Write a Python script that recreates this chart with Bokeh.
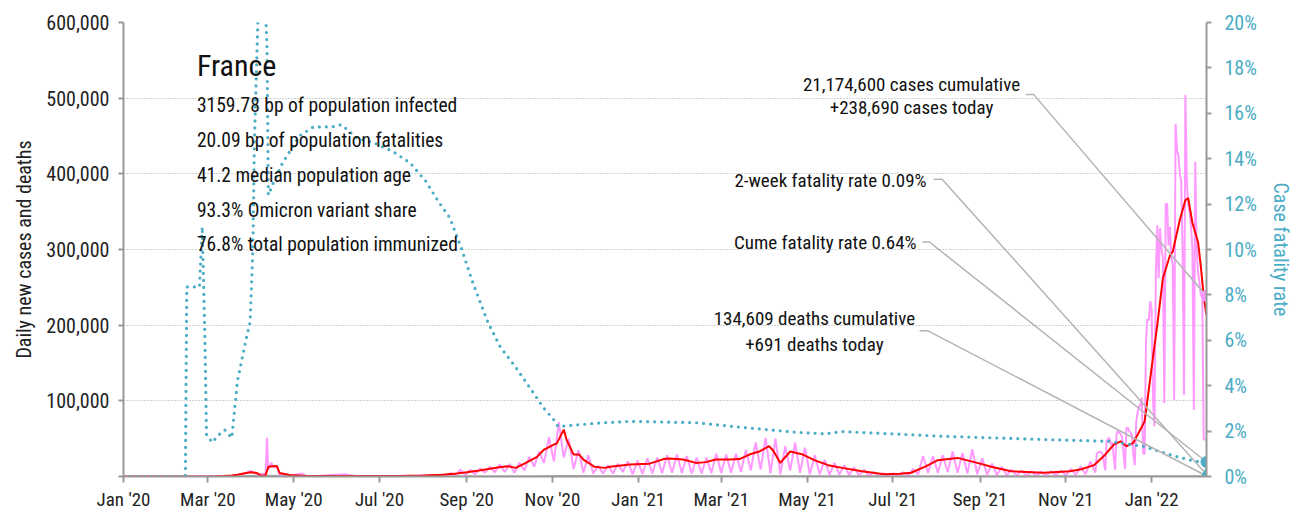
import pandas as pd
from bokeh.plotting import figure
from bokeh.models import (Range1d, LinearAxis, DatetimeTickFormatter, MonthsTicker,
                          NumeralTickFormatter, FixedTicker, PrintfTickFormatter, Label)
from bokeh.embed import file_html
from bokeh.resources import INLINE

# ---------------- data ----------------
# 7-day average of daily new cases (red)
red_dates = ["2020-01-01", "2020-02-25", "2020-03-05", "2020-03-12", "2020-03-18", "2020-03-22",
             "2020-03-28", "2020-04-01", "2020-04-05", "2020-04-08", "2020-04-11", "2020-04-13",
             "2020-04-16", "2020-04-19", "2020-04-21", "2020-04-28", "2020-05-10", "2020-06-01",
             "2020-07-01", "2020-07-15", "2020-08-01", "2020-08-15", "2020-08-25", "2020-09-01",
             "2020-09-10", "2020-09-23", "2020-09-30", "2020-10-06", "2020-10-12", "2020-10-21",
             "2020-10-26", "2020-11-02", "2020-11-04", "2020-11-09", "2020-11-11", "2020-11-16",
             "2020-11-20", "2020-11-23", "2020-12-01", "2020-12-08", "2020-12-12", "2020-12-26",
             "2021-01-09", "2021-01-19", "2021-01-23", "2021-02-02", "2021-02-11", "2021-02-18",
             "2021-02-25", "2021-03-07", "2021-03-14", "2021-03-21", "2021-03-28", "2021-04-04",
             "2021-04-07", "2021-04-12", "2021-04-19", "2021-04-28", "2021-05-07", "2021-05-16",
             "2021-05-26", "2021-06-09", "2021-06-25", "2021-07-06", "2021-07-14", "2021-07-24",
             "2021-08-02", "2021-08-16", "2021-08-30", "2021-09-09", "2021-09-23", "2021-10-16",
             "2021-11-04", "2021-11-12", "2021-11-21", "2021-11-28", "2021-12-05", "2021-12-10",
             "2021-12-14", "2021-12-19", "2021-12-24", "2021-12-27", "2021-12-29", "2022-01-02",
             "2022-01-05", "2022-01-09", "2022-01-14", "2022-01-16", "2022-01-21", "2022-01-25",
             "2022-01-27", "2022-01-30", "2022-02-03", "2022-02-05", "2022-02-07", "2022-02-09"]
red_vals = [0, 0, 100, 500, 1200, 2200,
            4500, 5700, 4500, 800, 1500, 13000,
            13600, 14000, 4500, 2000, 800, 600,
            600, 700, 1200, 2300, 4000, 5500,
            8000, 11800, 13600, 11400, 17100, 26000,
            35600, 42200, 43500, 62000, 48800, 29000,
            29000, 22400, 12800, 11400, 12800, 15800,
            17000, 23000, 23700, 22400, 18000, 19000,
            22400, 22400, 23000, 29000, 33000, 40000,
            34000, 18000, 33000, 29000, 21000, 15000,
            11400, 7000, 3000, 3500, 5000, 13000,
            21500, 24600, 18000, 12800, 7000, 4800,
            7000, 9500, 15000, 27000, 42000, 46500,
            40000, 44500, 62000, 73000, 101000, 158000,
            200000, 262000, 292000, 297000, 339000, 365000,
            368000, 335000, 310000, 277000, 238000, 213000]

# daily new cases (pink), spring 2020 (irregular reading points)
pink_early_dates = ["2020-01-01", "2020-02-25", "2020-03-05", "2020-03-12", "2020-03-17", "2020-03-21",
                    "2020-03-25", "2020-03-28", "2020-03-31", "2020-04-03", "2020-04-06", "2020-04-09",
                    "2020-04-11", "2020-04-12", "2020-04-13", "2020-04-15", "2020-04-17", "2020-04-19",
                    "2020-04-21", "2020-04-25", "2020-04-29", "2020-05-07", "2020-05-10", "2020-05-20",
                    "2020-06-06", "2020-06-15", "2020-07-01", "2020-07-15", "2020-07-24"]
pink_early_vals = [0, 0, 200, 600, 1100, 1800,
                   3000, 4200, 7500, 5000, 1800, 3600,
                   4000, 51000, 9000, 18000, 12000, 14000,
                   2000, 3000, 1500, 4000, 500, 1000,
                   3000, 500, 800, 600, 900]

# daily new cases (pink), weekly low (Monday) / high (mid-week) from 2020-07-27 to 2021-11-15
pink_weeks_start = "2020-07-27"
pink_week_low = [300, 500, 700, 1000, 1500, 1500, 3000, 5000, 5500, 6000,
                 5000, 8000, 13000, 18000, 20000, 25000, 10000, 5000, 4000, 4000,
                 4000, 6000, 3000, 3500, 4000, 4500, 5000, 4500, 4000, 4000,
                 4500, 4500, 5000, 6000, 8000, 9000, 4000, 3000, 8000, 5000,
                 3000, 3000, 2000, 2500, 2000, 1500, 800, 600, 600, 800,
                 1500, 3000, 4500, 5000, 5500, 5000, 4000, 3000, 2500, 2000,
                 1500, 1200, 1000, 1000, 1000, 1200, 1500, 2000, 3000]
pink_week_high = [1600, 2000, 2800, 4500, 9000, 8900, 10500, 13000, 16000, 16500,
                  18500, 26000, 33000, 52000, 72000, 50000, 35000, 28000, 14000, 15000,
                  17000, 20000, 21000, 24000, 25000, 28000, 29000, 27000, 25000, 25000,
                  30000, 29000, 30000, 35000, 45000, 51000, 50000, 40000, 45000, 38000,
                  28000, 22000, 18000, 15000, 12000, 9000, 6000, 4000, 4200, 5500,
                  10000, 27000, 27000, 28000, 33000, 31000, 36000, 24000, 17000, 13000,
                  9500, 8000, 7000, 6500, 7000, 8000, 10000, 13000, 20000]

# daily new cases (pink), every day from 2021-11-22 to 2022-02-08
pink_daily_start = "2021-11-22"
pink_daily_vals = [5000, 30000, 32000, 33000, 32000, 30000, 19000,
                   8000, 47000, 50000, 51000, 42000, 45000, 27000,
                   9000, 55000, 61000, 58000, 56000, 52000, 31000,
                   10000, 63000, 65000, 60000, 58000, 55000, 28000,
                   15000, 72000, 85000, 92000, 95000, 104000, 30000,
                   30000, 180000, 208000, 206000, 232000, 220000, 100000,
                   66000, 270000, 332000, 262000, 328000, 300000, 290000,
                   97000, 360000, 360000, 305000, 330000, 290000, 280000,
                   101000, 466000, 431000, 425000, 400000, 390000, 300000,
                   108000, 504000, 392000, 360000, 350000, 330000, 300000,
                   88000, 416000, 300000, 270000, 256000, 240000, 238000,
                   49000, 49000]

# daily deaths (grey, 7-day average)
death_dates = ["2020-03-01", "2020-03-20", "2020-04-05", "2020-04-15", "2020-05-01", "2020-05-20",
               "2020-07-01", "2020-09-01", "2020-10-15", "2020-11-10", "2020-12-01", "2021-01-15",
               "2021-03-01", "2021-04-15", "2021-06-01", "2021-07-15", "2021-08-25", "2021-10-15",
               "2021-12-15", "2022-01-25", "2022-02-09"]
death_vals = [0, 150, 1000, 900, 350, 100, 30, 20, 100, 550, 350, 350,
              300, 330, 80, 20, 120, 30, 120, 280, 300]

# case fatality rate (%), teal dotted
cfr_dates = ["2020-01-01", "2020-02-14", "2020-02-15", "2020-02-24", "2020-02-26", "2020-02-28",
             "2020-02-29", "2020-03-02", "2020-03-04", "2020-03-09", "2020-03-13", "2020-03-18",
             "2020-03-22", "2020-03-28", "2020-03-31", "2020-04-02", "2020-04-03", "2020-04-05",
             "2020-04-06", "2020-04-08", "2020-04-10", "2020-04-12", "2020-04-13", "2020-04-17",
             "2020-04-23", "2020-04-30", "2020-05-05", "2020-05-15", "2020-05-28", "2020-06-04",
             "2020-06-15", "2020-06-27", "2020-07-11", "2020-07-23", "2020-08-03", "2020-08-12",
             "2020-08-20", "2020-08-28", "2020-09-05", "2020-09-16", "2020-09-25", "2020-10-06",
             "2020-10-16", "2020-10-26", "2020-11-02", "2020-11-05", "2020-12-03", "2020-12-26",
             "2021-02-11", "2021-03-18", "2021-04-23", "2021-05-14", "2021-05-26", "2021-08-07",
             "2021-10-16", "2021-12-02", "2021-12-26", "2022-01-18", "2022-02-01", "2022-02-09"]
cfr_vals = [0, 0, 8.35, 8.35, 11.0, 5.7,
            1.85, 1.7, 1.5, 1.85, 2.05, 1.7,
            4.2, 6.0, 6.8, 10.0, 14.5, 18.9,
            21.0, 23.0, 22.0, 19.0, 12.4, 13.0,
            13.8, 14.5, 15.0, 15.4, 15.4, 15.5,
            14.9, 14.7, 14.3, 13.8, 13.0, 12.1,
            11.4, 10.1, 8.6, 6.8, 5.7, 4.8,
            3.9, 3.0, 2.5, 2.2, 2.35, 2.43,
            2.37, 2.15, 1.95, 1.88, 1.98, 1.77,
            1.63, 1.55, 1.33, 0.89, 0.67, 0.64]

# latest values
last_date = "2022-02-09"
cases_today = 238690
deaths_today = 691
cfr_two_week = 0.09
cfr_cume = 0.64

left_ticks = [0, 100000, 200000, 300000, 400000, 500000, 600000]
right_ticks = [0, 2, 4, 6, 8, 10, 12, 14, 16, 18, 20]
tick_months = [0, 2, 4, 6, 8, 10]

title_text = "France"
info_lines = ["3159.78 bp of population infected",
              "20.09 bp of population fatalities",
              "41.2 median population age",
              "93.3% Omicron variant share",
              "76.8% total population immunized"]
cases_note = ["21,174,600 cases cumulative", "+238,690 cases today"]
two_week_note = "2-week fatality rate 0.09%"
cume_note = "Cume fatality rate 0.64%"
deaths_note = ["134,609 deaths cumulative", "+691 deaths today"]

# ---------------- styles ----------------
FONT = "Roboto Condensed, DejaVu Sans Condensed, Liberation Sans Narrow, Roboto, sans-serif"
TEAL = "#4bacc6"
PINK = "#ff99ff"
RED = "#ff0000"
AXIS_GREY = "#999999"
NOTE_GREY = "#b4b4b4"


def ts(s):
    return pd.Timestamp(s).value / 1e6


# build pink series
pink_x = [pd.Timestamp(d) for d in pink_early_dates]
pink_y = list(pink_early_vals)
wk = pd.date_range(pink_weeks_start, periods=len(pink_week_low), freq="7D")
for d, lo, hi in zip(wk, pink_week_low, pink_week_high):
    pink_x += [d, d + pd.Timedelta(hours=84)]
    pink_y += [lo, hi]
dd = pd.date_range(pink_daily_start, periods=len(pink_daily_vals), freq="D")
pink_x += list(dd)
pink_y += pink_daily_vals

p = figure(width=1295, height=513, x_axis_type="datetime", output_backend="svg",
           toolbar_location=None,
           x_range=Range1d(pd.Timestamp("2020-01-01"), pd.Timestamp(last_date)),
           y_range=Range1d(0, 600000),
           min_border_left=123, min_border_right=81, min_border_top=22, min_border_bottom=36)
p.outline_line_color = None
p.background_fill_color = "white"
p.border_fill_color = "white"
p.extra_y_ranges = {"cfr": Range1d(0, 20)}

# grid
p.xgrid.visible = False
p.ygrid.grid_line_color = "#a8a8a8"
p.ygrid.grid_line_dash = "1 2"
p.ygrid.grid_line_width = 1

# x axis
xa = p.xaxis[0]
xa.ticker = MonthsTicker(months=tick_months)
xa.formatter = DatetimeTickFormatter(months="%b '%y", days="%b '%y", years="%b '%y")
xa.axis_line_color = AXIS_GREY
xa.axis_line_width = 2
xa.major_tick_line_color = AXIS_GREY
xa.major_tick_line_width = 2
xa.major_tick_out = 6
xa.major_tick_in = 0
xa.minor_tick_line_color = None
xa.major_label_standoff = 5
xa.major_label_text_font = FONT
xa.major_label_text_font_size = "19px"
xa.major_label_text_color = "#222222"

# left axis
ya = p.yaxis[0]
ya.ticker = FixedTicker(ticks=left_ticks)
ya.formatter = NumeralTickFormatter(format="0,0")
ya.major_label_overrides = {0: ""}
ya.axis_line_color = AXIS_GREY
ya.axis_line_width = 2
ya.major_tick_line_color = AXIS_GREY
ya.major_tick_line_width = 2
ya.major_tick_out = 5
ya.major_tick_in = 0
ya.minor_tick_line_color = None
ya.major_label_standoff = 9
ya.major_label_text_font = FONT
ya.major_label_text_font_size = "20px"
ya.major_label_text_color = "#222222"
ya.axis_label = "Daily new cases and deaths"
ya.axis_label_text_font = FONT
ya.axis_label_text_font_size = "20px"
ya.axis_label_text_font_style = "normal"
ya.axis_label_text_color = "#222222"
ya.axis_label_standoff = 7

# right axis
ra = LinearAxis(y_range_name="cfr", ticker=FixedTicker(ticks=right_ticks),
                formatter=PrintfTickFormatter(format="%d%%"))
ra.axis_line_color = AXIS_GREY
ra.axis_line_width = 2
ra.major_tick_line_color = AXIS_GREY
ra.major_tick_line_width = 2
ra.major_tick_out = 5
ra.major_tick_in = 0
ra.minor_tick_line_color = None
ra.major_label_standoff = 13
ra.major_label_text_font = FONT
ra.major_label_text_font_size = "20px"
ra.major_label_text_color = TEAL
ra.axis_label = "Case fatality rate"
ra.axis_label_text_font = FONT
ra.axis_label_text_font_size = "20px"
ra.axis_label_text_font_style = "normal"
ra.axis_label_text_color = TEAL
ra.axis_label_standoff = 9
p.add_layout(ra, "right")

# series
p.line([pd.Timestamp(d) for d in death_dates], death_vals, line_color="#aaaaaa", line_width=2)
p.line(pink_x, pink_y, line_color=PINK, line_width=2)
p.line([pd.Timestamp(d) for d in red_dates], red_vals, line_color=RED, line_width=2)
p.line([pd.Timestamp(d) for d in cfr_dates], cfr_vals, y_range_name="cfr",
       line_color=TEAL, line_width=3.2, line_dash="0 7", line_cap="round")

# annotation leader lines (label anchor -> latest values)
end = pd.Timestamp(last_date)
p.line([pd.Timestamp("2021-10-03 12:00"), pd.Timestamp("2021-10-09"), end],
       [505000, 505000, cases_today], line_color=NOTE_GREY, line_width=1.5)
p.line([pd.Timestamp("2021-07-30"), pd.Timestamp("2021-08-05"), end],
       [13.1, 13.1, cfr_two_week], y_range_name="cfr", line_color=NOTE_GREY, line_width=1.5)
p.line([pd.Timestamp("2021-07-22"), pd.Timestamp("2021-07-27"), end],
       [10.33, 10.33, cfr_cume], y_range_name="cfr", line_color=NOTE_GREY, line_width=1.5)
p.line([pd.Timestamp("2021-07-20"), pd.Timestamp("2021-07-26"), end],
       [192500, 192500, deaths_today], line_color=NOTE_GREY, line_width=1.5)

# end markers
p.scatter([end], [cases_today], marker="circle", size=11, fill_color=PINK, line_color=PINK)
p.scatter([end], [cfr_cume], y_range_name="cfr", marker="circle", size=11,
          fill_color=TEAL, line_color=TEAL)
p.scatter([end], [cfr_two_week], y_range_name="cfr", marker="triangle", size=12,
          fill_color=TEAL, line_color=TEAL)

# texts
def add_label(x, y, text, size, align="left", weight="normal", color="#111111"):
    p.add_layout(Label(x=ts(x), y=y, text=text, text_font=FONT, text_font_size=size,
                       text_align=align, text_baseline="middle", text_font_style=weight,
                       text_color=color))


add_label("2020-02-22 05:00", 543300, title_text, "30px")
for t, yv in zip(info_lines, [490500, 444400, 398300, 352100, 306000]):
    add_label("2020-02-22 05:00", yv, t, "19.5px")

add_label("2021-07-14 07:00", 518200, cases_note[0], "19px", align="center")
add_label("2021-07-14 07:00", 487900, cases_note[1], "19px", align="center")
add_label("2021-07-25", 391600, two_week_note, "19px", align="right")
add_label("2021-07-17 21:00", 308600, cume_note, "19px", align="right")
add_label("2021-05-06 05:00", 208400, deaths_note[0], "19px", align="center")
add_label("2021-05-06 05:00", 174100, deaths_note[1], "19px", align="center")

open("out.html", "w").write(file_html(p, INLINE))
